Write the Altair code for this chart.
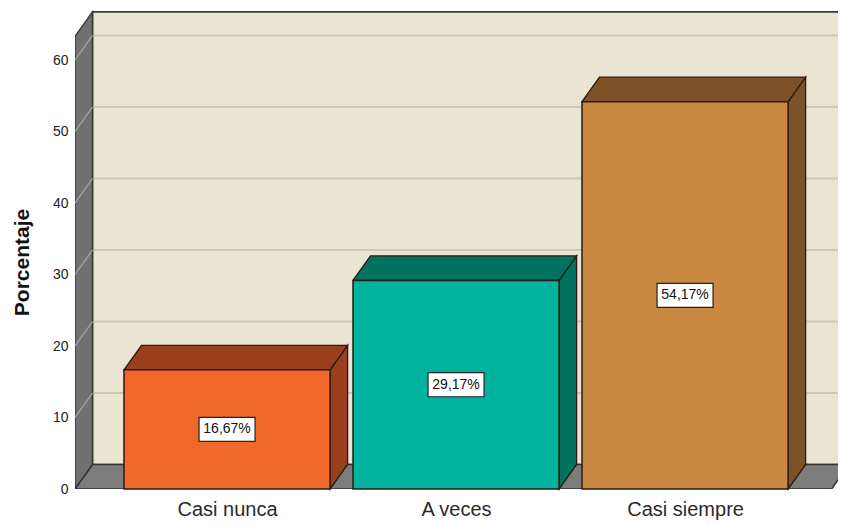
import json
import altair as alt
import pandas as pd

# ---- data ----
categories = ["Casi nunca", "A veces", "Casi siempre"]
values = [16.67, 29.17, 54.17]
value_labels = ["16,67%", "29,17%", "54,17%"]
front_colors = ["#F2682B", "#00B39F", "#CB8842"]
depth_colors = ["#9A3F1C", "#00725F", "#7E5228"]
y_ticks = [0, 10, 20, 30, 40, 50, 60]
grid_values = [10, 20, 30, 40, 50, 60]

# ---- layout / style constants ----
W, H = 763, 481
PX_PER_CAT = 229.0
PX_PER_UNIT = 7.15
XMIN = -0.664
XMAX = XMIN + W / PX_PER_CAT
YMAX = H / PX_PER_UNIT
DX = 17.5 / PX_PER_CAT      # depth offset (x, category units)
DY = 24.5 / PX_PER_UNIT     # depth offset (y, value units)
HALF = 0.45                 # half bar width
WALL_TOP = 63.3
FLOOR_R = 2.64
OUTLINE = "#2a1a10"

xs = alt.Scale(domain=[XMIN, XMAX], nice=False, zero=False)
ys = alt.Scale(domain=[0, YMAX], nice=False, zero=False)

xaxis = alt.Axis(
    values=[0, 1, 2], title=None, ticks=False, domain=False, grid=False,
    labelExpr=json.dumps(categories) + "[datum.value]",
    labelFontSize=20, labelPadding=10, labelColor="#2a2a2a",
    labelOverlap=False, labelFlush=False, labelBound=False,
)
yaxis = alt.Axis(
    values=y_ticks, title="Porcentaje", ticks=False, domain=False, grid=False,
    labelFontSize=14, labelPadding=7, labelColor="#222222",
    titleFontSize=21, titleFontWeight="bold", titleColor="#111111",
    titleX=-53, titleY=254, titleAlign="center", titleBaseline="middle", titleAngle=-90,
)

def X(f):
    return alt.X(f, scale=xs, axis=xaxis, stack=None)

def Y(f):
    return alt.Y(f, scale=ys, axis=yaxis, stack=None)

# ---- tables ----
bars = pd.DataFrame({
    "cat": categories,
    "idx": list(range(len(categories))),
    "value": values,
    "label": value_labels,
    "front": front_colors,
    "depth": depth_colors,
})
bars["x0"] = bars["idx"] - HALF
bars["x1"] = bars["idx"] + HALF
bars["mid"] = bars["value"] / 2

tops = pd.concat([
    pd.DataFrame({"cat": bars["cat"], "y": bars["value"], "xa": bars["x0"], "xb": bars["x1"], "c": bars["depth"]}),
    pd.DataFrame({"cat": bars["cat"], "y": bars["value"] + DY, "xa": bars["x0"] + DX, "xb": bars["x1"] + DX, "c": bars["depth"]}),
])
sides = pd.concat([
    pd.DataFrame({"cat": bars["cat"], "x": bars["x1"], "ya": 0.0, "yb": bars["value"], "c": bars["depth"]}),
    pd.DataFrame({"cat": bars["cat"], "x": bars["x1"] + DX, "ya": DY, "yb": bars["value"] + DY, "c": bars["depth"]}),
])

wall = pd.DataFrame({"xa": [XMIN + DX], "xb": [XMAX + 0.3], "ya": [DY], "yb": [WALL_TOP + DY]})
left_wall = pd.DataFrame({"x": [XMIN, XMIN + DX], "ya": [0.0, DY], "yb": [WALL_TOP, WALL_TOP + DY]})
floor = pd.DataFrame({"y": [0.0, DY], "xa": [XMIN, XMIN + DX], "xb": [FLOOR_R, FLOOR_R + DX]})
grid_back = pd.DataFrame({"xa": XMIN + DX, "xb": XMAX + 0.3, "y": [g + DY for g in grid_values]})
grid_left = pd.DataFrame({"xa": XMIN, "xb": XMIN + DX, "ya": grid_values, "yb": [g + DY for g in grid_values]})

# ---- layers ----
wall_l = alt.Chart(wall).mark_rect(fill="#EAE4D3", stroke="#3a3a3a", strokeWidth=1.6, clip=True).encode(
    x=X("xa:Q"), x2="xb:Q", y=Y("ya:Q"), y2="yb:Q")

grid_back_l = alt.Chart(grid_back).mark_rule(color="#CEC7B3", strokeWidth=2, clip=True).encode(
    x=X("xa:Q"), x2="xb:Q", y=Y("y:Q"))

floor_l = alt.Chart(floor).mark_area(orient="horizontal", fill="#7C7C7C", stroke="#333333",
                                     strokeWidth=1.4, clip=True).encode(
    y=Y("y:Q"), x=X("xa:Q"), x2="xb:Q")

left_l = alt.Chart(left_wall).mark_area(orient="vertical", fill="#717171", stroke="#333333",
                                        strokeWidth=1.4, clip=True).encode(
    x=X("x:Q"), y=Y("ya:Q"), y2="yb:Q")

grid_left_l = alt.Chart(grid_left).mark_rule(color="#A9A9A9", strokeWidth=1.2, clip=True).encode(
    x=X("xa:Q"), x2="xb:Q", y=Y("ya:Q"), y2="yb:Q")

sides_l = alt.Chart(sides).mark_area(orient="vertical", stroke=OUTLINE, strokeWidth=1.3).encode(
    x=X("x:Q"), y=Y("ya:Q"), y2="yb:Q", detail="cat:N", fill=alt.Fill("c:N", scale=None))

tops_l = alt.Chart(tops).mark_area(orient="horizontal", stroke=OUTLINE, strokeWidth=1.3).encode(
    y=Y("y:Q"), x=X("xa:Q"), x2="xb:Q", detail="cat:N", fill=alt.Fill("c:N", scale=None))

front_l = alt.Chart(bars).mark_rect(stroke=OUTLINE, strokeWidth=1.5).encode(
    x=X("x0:Q"), x2="x1:Q", y=alt.Y("value:Q", scale=ys, axis=yaxis), y2=alt.datum(0),
    fill=alt.Fill("front:N", scale=None))

box_l = alt.Chart(bars).mark_point(
    shape="M-1,-0.43L1,-0.43L1,0.43L-1,0.43Z", size=56 ** 2, filled=True,
    fill="white", stroke="#222222", strokeWidth=1.2, opacity=1).encode(
    x=X("idx:Q"), y=Y("mid:Q"))

text_l = alt.Chart(bars).mark_text(fontSize=14, color="#111111").encode(
    x=X("idx:Q"), y=Y("mid:Q"), text="label:N")

chart = alt.layer(
    wall_l, grid_back_l, floor_l, left_l, grid_left_l, sides_l, tops_l, front_l, box_l, text_l
).properties(
    width=W, height=H,
    autosize=alt.AutoSizeParams(type="none"),
    padding={"left": 67, "top": 0, "right": 0, "bottom": 35},
).configure(font="Liberation Sans").configure_view(stroke=None).configure_axis(grid=False)

chart.save("out.html", embed_options={"renderer": "svg", "actions": False})
